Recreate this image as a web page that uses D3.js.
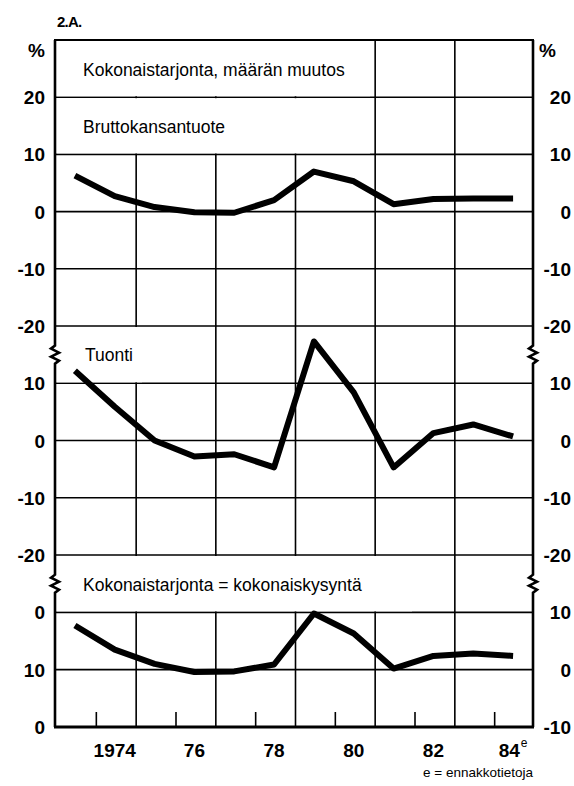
<!DOCTYPE html>
<html>
<head>
<meta charset="utf-8">
<title>2.A.</title>
<style>
  html, body { margin: 0; padding: 0; background: #fff; }
  text { font-family: "Liberation Sans", Arial, sans-serif; fill: #000; }
  .tick { font-size: 19px; font-weight: bold; }
  .title { font-size: 17.5px; }
</style>
</head>
<body>
<script src="https://d3js.org/d3.v7.min.js"></script>
<script>
var years = [1973, 1974, 1975, 1976, 1977, 1978, 1979, 1980, 1981, 1982, 1983, 1984];
// Bruttokansantuote, % muutos
var bkt = [6.3, 2.7, 0.8, -0.1, -0.2, 2.0, 7.0, 5.3, 1.3, 2.2, 2.3, 2.3];
// Tuonti
var tuonti = [12.2, 5.9, 0.0, -2.8, -2.4, -4.7, 17.3, 8.4, -4.7, 1.3, 2.8, 0.7];
// Kokonaistarjonta = kokonaiskysyntä
var kokonais = [7.7, 3.5, 1.0, -0.4, -0.3, 0.9, 9.8, 6.3, 0.2, 2.4, 2.8, 2.4];

var xLabels = [[1974, "1974"], [1976, "76"], [1978, "78"], [1980, "80"], [1982, "82"], [1984, "84"]];
var topTicks = [20, 10, 0, -10, -20];
var midTicks = [10, 0, -10, -20];
var botTicksRight = [10, 0, -10];
var botTicksLeft = [[20, "0"], [10, "10"], [0, "0"]];

var W = 574, H = 786;
var svg = d3.select("body").append("svg")
    .attr("width", W)
    .attr("height", H);

var x = d3.scaleLinear().domain([1972.5, 1984.5]).range([55, 533]);
var yTop = d3.scaleLinear().domain([-20, 30]).range([326, 40]);
var yMid = d3.scaleLinear().domain([-20, 20]).range([555, 326]);
var yBot = d3.scaleLinear().domain([-10, 20]).range([727, 555]);
var yBotL = d3.scaleLinear().domain([0, 20]).range([727, 612]);

var x0 = x.range()[0], x1 = x.range()[1];

// horizontal grid
var hLines = [yTop(30)].concat(topTicks.map(yTop), midTicks.map(yMid), botTicksRight.map(yBot));
svg.append("g").selectAll("line").data(hLines).enter().append("line")
    .attr("x1", x0).attr("x2", x1)
    .attr("y1", d => d).attr("y2", d => d)
    .attr("stroke", "#000").attr("stroke-width", 1.6);

// vertical grid between even years
var vGrid = d3.range(1974.5, 1984, 2);
svg.append("g").selectAll("line").data(vGrid).enter().append("line")
    .attr("x1", d => x(d) + 1.5).attr("x2", d => x(d) + 1.5)
    .attr("y1", yTop(30)).attr("y2", yBot(-10))
    .attr("stroke", "#000").attr("stroke-width", 1.6);

// bottom ticks
var bTicks = d3.range(1973.5, 1984, 2);
svg.append("g").selectAll("line").data(bTicks).enter().append("line")
    .attr("x1", d => x(d) + 1.5).attr("x2", d => x(d) + 1.5)
    .attr("y1", yBot(-10)).attr("y2", yBot(-10) - 15)
    .attr("stroke", "#000").attr("stroke-width", 1.6);

// white boxes behind the panel titles
var boxes = [
    [x0 + 1.5, yTop(30) + 1, 370, yTop(20) - 1],
    [x0 + 1.5, yTop(20) + 1, 370, yTop(10) - 1],
    [x0 + 1.5, yMid(20) + 1, 142, yMid(10) - 1],
    [x0 + 1.5, yBot(20) + 1, 412, yBot(10) - 1]
];
svg.append("g").selectAll("rect").data(boxes).enter().append("rect")
    .attr("x", d => d[0]).attr("y", d => d[1])
    .attr("width", d => d[2] - d[0]).attr("height", d => d[3] - d[1])
    .attr("fill", "#fff");

// axes with break marks
function axisPath(ax) {
    var p = d3.path();
    var brk = [(yTop(-20) + yMid(10)) / 2, (yMid(-20) + yBot(10)) / 2];
    p.moveTo(ax, yTop(30));
    brk.forEach(function (b) {
        p.lineTo(ax, b - 9);
        p.lineTo(ax - 4, b - 6);
        p.lineTo(ax + 4, b - 2);
        p.lineTo(ax - 4, b + 2);
        p.lineTo(ax + 4, b + 6);
        p.lineTo(ax, b + 9);
    });
    p.lineTo(ax, yBot(-10));
    return p.toString();
}
[x0, x1].forEach(function (ax) {
    svg.append("path").attr("d", axisPath(ax))
        .attr("fill", "none").attr("stroke", "#000")
        .attr("stroke-width", 2.6).attr("stroke-linejoin", "miter");
});
svg.append("line")
    .attr("x1", x0 - 1).attr("x2", x1 + 1)
    .attr("y1", yBot(-10)).attr("y2", yBot(-10))
    .attr("stroke", "#000").attr("stroke-width", 2.8);
svg.append("line")
    .attr("x1", x0 - 1).attr("x2", x1 + 1)
    .attr("y1", yTop(30)).attr("y2", yTop(30))
    .attr("stroke", "#000").attr("stroke-width", 2);

// data lines
function drawSeries(values, y) {
    var line = d3.line()
        .x((d, i) => x(years[i]))
        .y(d => y(d));
    svg.append("path").datum(values)
        .attr("d", line)
        .attr("fill", "none").attr("stroke", "#000")
        .attr("stroke-width", 6)
        .attr("stroke-linejoin", "round");
}
drawSeries(bkt, yTop);
drawSeries(tuonti, yMid);
drawSeries(kokonais, yBot);

// panel titles
var titles = [
    ["Kokonaistarjonta, määrän muutos", 83, 76],
    ["Bruttokansantuote", 83, 133],
    ["Tuonti", 85, 361],
    ["Kokonaistarjonta = kokonaiskysyntä", 83, 591]
];
svg.append("g").selectAll("text").data(titles).enter().append("text")
    .attr("class", "title")
    .attr("x", d => d[1]).attr("y", d => d[2])
    .text(d => d[0]);

// y tick labels
function fmt(v) { return v < 0 ? "-" + Math.abs(v) : String(v); }
var leftL = [].concat(
    topTicks.map(v => [yTop(v), fmt(v)]),
    midTicks.map(v => [yMid(v), fmt(v)]),
    botTicksLeft.map(d => [yBotL(d[0]), d[1]])
);
var rightL = [].concat(
    topTicks.map(v => [yTop(v), fmt(v)]),
    midTicks.map(v => [yMid(v), fmt(v)]),
    botTicksRight.map(v => [yBot(v), fmt(v)])
);
svg.append("g").selectAll("text").data(leftL).enter().append("text")
    .attr("class", "tick")
    .attr("x", 45).attr("y", d => d[0] + 7)
    .attr("text-anchor", "end")
    .text(d => d[1]);
svg.append("g").selectAll("text").data(rightL).enter().append("text")
    .attr("class", "tick")
    .attr("x", 571).attr("y", d => d[0] + 7)
    .attr("text-anchor", "end")
    .text(d => d[1]);
// % signs
svg.append("text").attr("class", "tick").attr("x", 45).attr("y", yTop(30) + 17)
    .attr("text-anchor", "end").text("%");
svg.append("text").attr("class", "tick").attr("x", 539).attr("y", yTop(30) + 17)
    .text("%");

// x labels
var xl = svg.append("g").selectAll("text").data(xLabels).enter().append("text")
    .attr("class", "tick")
    .attr("x", d => x(d[0]))
    .attr("y", 757)
    .attr("text-anchor", "middle")
    .text(d => d[1]);
xl.filter(d => d[0] === 1984).append("tspan")
    .attr("dy", -10).attr("dx", 1)
    .style("font-size", "12px").style("font-weight", "normal")
    .text("e");

// header and footnote
svg.append("text").attr("x", 57).attr("y", 27)
    .style("font-size", "15px").style("font-weight", "bold")
    .attr("letter-spacing", "-0.8")
    .text("2.A.");
svg.append("text").attr("x", 533).attr("y", 777)
    .attr("text-anchor", "end")
    .style("font-size", "13.5px")
    .text("e = ennakkotietoja");
</script>
</body>
</html>
